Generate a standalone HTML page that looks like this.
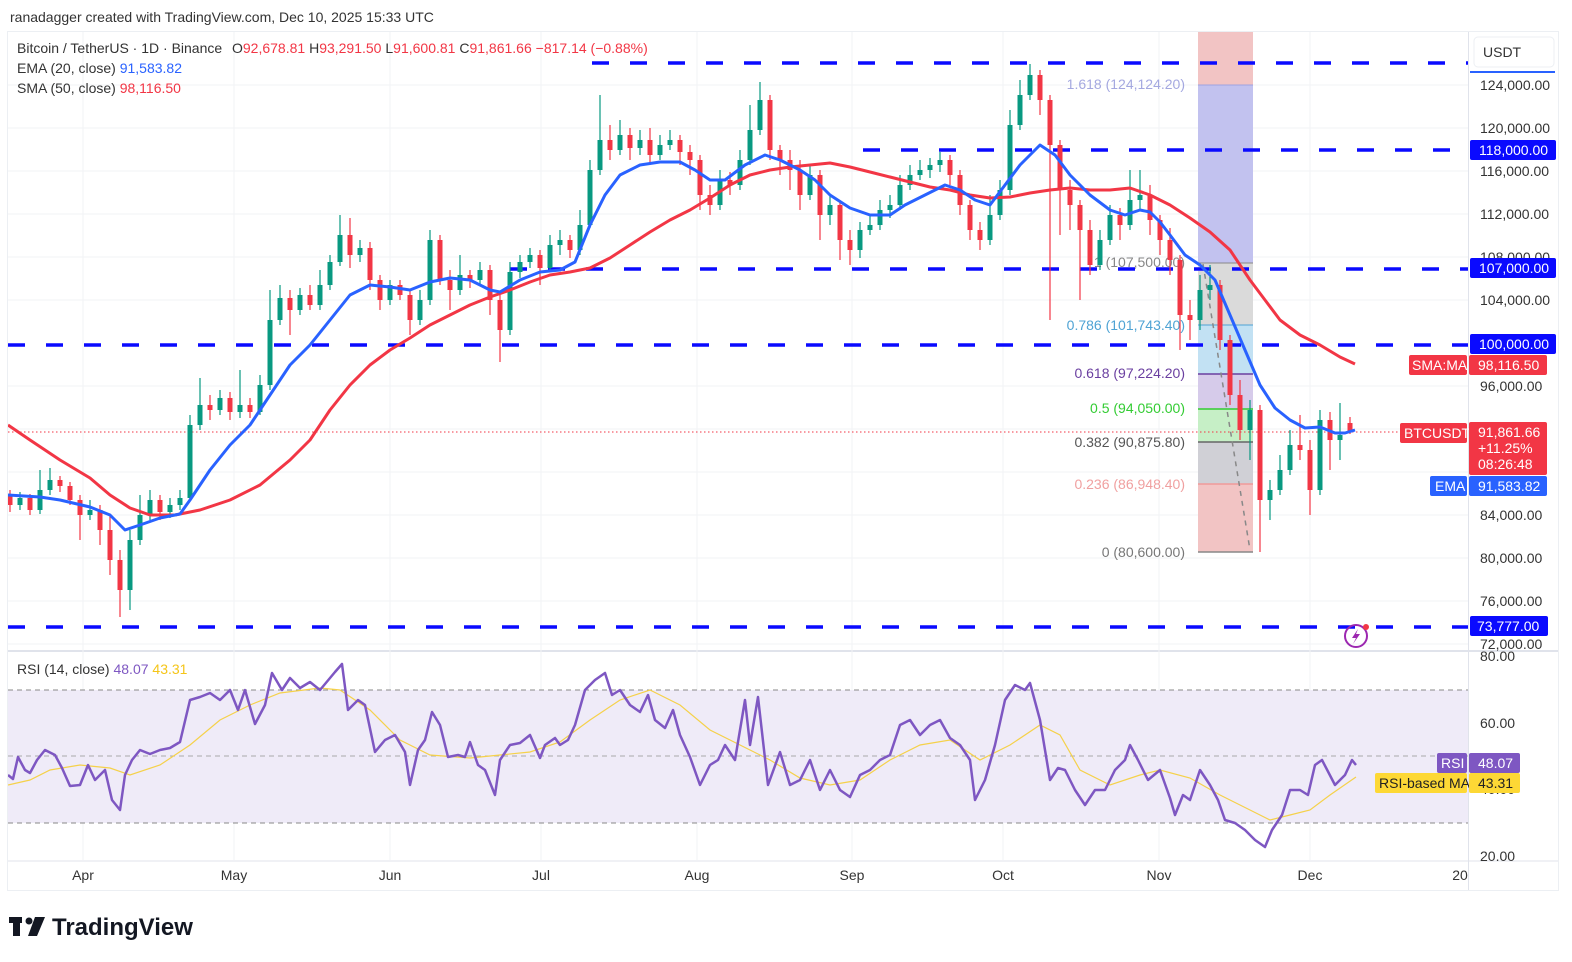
<!DOCTYPE html>
<html><head><meta charset="utf-8">
<style>
html,body{margin:0;padding:0;background:#fff;}
svg{display:block;font-family:"Liberation Sans",sans-serif;}
</style></head>
<body>
<svg width="1572" height="962" viewBox="0 0 1572 962" xmlns="http://www.w3.org/2000/svg">
<defs>
<clipPath id="mc"><rect x="8" y="32" width="1460" height="618"/></clipPath>
<clipPath id="rc"><rect x="8" y="652" width="1460" height="208"/></clipPath>
</defs>
<rect width="1572" height="962" fill="#fff"/>
<text x="10" y="22" font-size="14" fill="#333">ranadagger created with TradingView.com, Dec 10, 2025 15:33 UTC</text>
<rect x="7.5" y="31.5" width="1551" height="859" fill="none" stroke="#eceff3"/>
<line x1="1468.5" y1="32" x2="1468.5" y2="890" stroke="#e0e3eb"/>
<line x1="8" y1="651" x2="1558" y2="651" stroke="#e0e3eb" stroke-width="2"/>
<line x1="8" y1="861" x2="1558" y2="861" stroke="#e0e3eb"/>
<g stroke="#f2f3f6">
<path d="M83 32V860M234 32V860M390 32V860M541 32V860M697 32V860M852 32V860M1003 32V860M1159 32V860M1310 32V860"/>
<path d="M8 85H1468M8 128H1468M8 171H1468M8 214H1468M8 257H1468M8 300H1468M8 386H1468M8 429H1468M8 472H1468M8 515H1468M8 558H1468M8 601H1468M8 644H1468M8 723H1468M8 789H1468"/>
</g>
<rect x="8" y="690" width="1460" height="133" fill="#efebf8"/>
<line x1="8" y1="690" x2="1468" y2="690" stroke="#888" stroke-dasharray="5,4"/>
<line x1="8" y1="756" x2="1468" y2="756" stroke="#aaa" stroke-dasharray="5,4"/>
<line x1="8" y1="823" x2="1468" y2="823" stroke="#888" stroke-dasharray="5,4"/>
<g>
<rect x="1198" y="32" width="55" height="53" fill="#f2c4c4"/>
<rect x="1198" y="85" width="55" height="178" fill="#c2c2ef"/>
<rect x="1198" y="263" width="55" height="62" fill="#dadada"/>
<rect x="1198" y="325" width="55" height="49" fill="#c2e1f3"/>
<rect x="1198" y="374" width="55" height="35" fill="#d6cbea"/>
<rect x="1198" y="409" width="55" height="33" fill="#c6efc6"/>
<rect x="1198" y="442" width="55" height="42" fill="#d0d0d6"/>
<rect x="1198" y="484" width="55" height="68" fill="#f2c4c4"/>
<line x1="1198" y1="85" x2="1253" y2="85" stroke="#9fa3e0"/>
<line x1="1198" y1="263" x2="1253" y2="263" stroke="#888"/>
<line x1="1198" y1="325" x2="1253" y2="325" stroke="#4fa3d4"/>
<line x1="1198" y1="374" x2="1253" y2="374" stroke="#6a3fa0" stroke-width="1.5"/>
<line x1="1198" y1="409" x2="1253" y2="409" stroke="#33cc33" stroke-width="1.5"/>
<line x1="1198" y1="442" x2="1253" y2="442" stroke="#666" stroke-width="1.5"/>
<line x1="1198" y1="484" x2="1253" y2="484" stroke="#f09a9a" stroke-width="1.5"/>
<line x1="1198" y1="552" x2="1253" y2="552" stroke="#888" stroke-width="1.5"/>
<line x1="1203" y1="264" x2="1250" y2="550" stroke="#888" stroke-width="1.5" stroke-dasharray="5,5"/>
</g>
<g font-size="14" text-anchor="end">
<text x="1185" y="89" fill="#a4a8e0">1.618 (124,124.20)</text>
<text x="1185" y="267" fill="#888">1 (107,500.00)</text>
<text x="1185" y="330" fill="#4fa3d4">0.786 (101,743.40)</text>
<text x="1185" y="378" fill="#6a3fa0">0.618 (97,224.20)</text>
<text x="1185" y="413" fill="#33cc33">0.5 (94,050.00)</text>
<text x="1185" y="447" fill="#555">0.382 (90,875.80)</text>
<text x="1185" y="489" fill="#f0a0a0">0.236 (86,948.40)</text>
<text x="1185" y="557" fill="#777">0 (80,600.00)</text>
</g>
<g stroke="#0a0aff" stroke-width="3.5" stroke-dasharray="17,21">
<line x1="592" y1="63" x2="1468" y2="63"/>
<line x1="863" y1="150" x2="1468" y2="150"/>
<line x1="510" y1="269" x2="1468" y2="269"/>
<line x1="8" y1="345" x2="1468" y2="345"/>
<line x1="8" y1="627" x2="1468" y2="627"/>
</g>
<line x1="8" y1="432" x2="1400" y2="432" stroke="#f23645" stroke-width="1" stroke-dasharray="1.5,2.5"/>
<g clip-path="url(#mc)" fill="none">
<path stroke="#089981" stroke-width="1.2" d="M20 492V510M40 470V514M50 468V495M90 500V520M130 530V610M140 495V545M150 490V520M170 498V518M180 490V510M190 415V500M200 378V430M220 390V415M240 370V418M260 375V415M270 290V390M280 285V325M300 288V315M320 270V310M330 255V290M340 215V266M360 240V262M390 280V305M420 290V325M430 230V305M460 255V295M480 262V285M510 262V335M520 255V278M530 248V268M550 235V272M560 230V255M580 210V255M590 160V228M600 95V175M620 120V155M640 130V155M660 135V160M670 130V150M720 170V210M740 150V190M750 105V165M760 82V135M810 165V200M830 195V225M860 222V258M870 215V235M880 200V230M890 195V218M900 175V210M910 165V190M920 160V180M930 158V178M940 152V172M990 195V245M1000 180V220M1010 110V195M1020 80V130M1030 64V100M1100 230V270M1110 205V245M1130 170V230M1140 170V210M1200 275V330M1210 265V300M1250 400V460M1270 480V520M1280 455V495M1290 430V475M1320 410V495M1340 403V460"/>
<path stroke="#089981" stroke-width="5" d="M20 498V505M40 490V510M50 480V490M90 510V515M130 540V590M140 515V540M150 500V515M170 505V512M180 498V505M190 425V498M200 405V425M220 398V410M240 405V412M260 385V412M270 320V385M280 298V320M300 295V310M320 285V305M330 262V285M340 235V262M360 248V255M390 285V300M420 300V320M430 240V300M460 275V290M480 270V280M510 272V330M520 262V272M530 255V262M550 245V268M560 240V245M580 225V250M590 170V225M600 140V170M620 135V150M640 140V148M660 145V155M670 140V145M720 180V205M740 160V185M750 130V160M760 100V130M810 175V195M830 205V215M860 230V250M870 225V230M880 210V225M890 205V210M900 185V205M910 175V185M920 170V175M930 165V170M940 160V165M990 215V240M1000 190V215M1010 125V190M1020 95V125M1030 75V95M1100 240V265M1110 215V240M1130 200V225M1140 195V200M1200 290V320M1210 285V290M1250 410V430M1270 490V500M1280 470V490M1290 445V470M1320 420V490M1340 435V440"/>
<path stroke="#f23645" stroke-width="1.2" d="M10 490V512M30 494V515M60 476V492M70 482V505M80 495V540M100 505V545M110 515V575M120 550V617M160 495V520M210 395V420M230 392V420M250 398V418M290 290V335M310 285V310M350 218V268M370 242V290M380 275V310M400 280V300M410 290V335M440 235V285M450 270V310M470 270V288M490 265V315M500 295V362M540 250V285M570 235V258M610 125V160M630 128V160M650 128V165M680 135V165M690 145V175M700 155V210M710 185V215M730 172V195M770 95V160M780 145V175M790 150V190M800 160V210M820 170V240M840 200V260M850 230V265M950 155V185M960 170V215M970 200V240M980 222V250M1040 70V115M1050 95V320M1060 140V235M1070 180V230M1080 200V300M1090 220V275M1120 208V240M1150 185V235M1160 215V255M1170 228V275M1180 255V350M1190 300V340M1220 280V350M1230 335V405M1240 380V440M1260 405V552M1300 415V460M1310 440V515M1330 412V470M1350 417V434"/>
<path stroke="#f23645" stroke-width="5" d="M10 495V505M30 498V510M60 480V486M70 486V500M80 500V515M100 510V530M110 530V560M120 560V590M160 500V512M210 405V410M230 398V412M250 405V412M290 298V310M310 295V305M350 235V255M370 248V280M380 280V300M400 285V295M410 295V320M440 240V280M450 280V290M470 275V280M490 270V300M500 300V330M540 255V268M570 240V250M610 140V150M630 135V148M650 140V155M680 140V152M690 152V160M700 160V195M710 195V205M730 180V185M770 100V150M780 150V160M790 160V170M800 170V195M820 175V215M840 205V240M850 240V250M950 160V175M960 175V205M970 205V230M980 230V240M1040 75V100M1050 100V145M1060 145V190M1070 190V205M1080 205V230M1090 230V265M1120 215V225M1150 195V220M1160 220V240M1170 240V260M1180 260V315M1190 315V320M1220 285V340M1230 340V395M1240 395V430M1260 410V500M1300 445V450M1310 450V490M1330 420V440M1350 423V432"/>
<polyline stroke="#f23645" stroke-width="3" stroke-linejoin="round" points="8,425 30,440 60,460 90,478 110,495 130,508 150,515 175,515 200,510 230,500 260,485 290,460 310,440 330,410 350,385 370,365 390,350 410,338 430,325 450,315 470,305 490,297 510,290 530,282 550,275 570,272 590,268 610,258 630,245 650,232 670,220 690,210 710,198 730,185 750,175 770,170 790,167 810,165 830,163 850,167 870,172 890,177 910,182 930,187 950,190 970,195 990,198 1010,197 1030,193 1050,190 1070,188 1090,190 1110,190 1130,188 1150,195 1170,205 1190,218 1210,232 1230,250 1250,280 1265,300 1280,320 1300,335 1320,345 1340,357 1355,364"/>
<polyline stroke="#2962ff" stroke-width="3" stroke-linejoin="round" points="8,495 40,497 60,500 90,507 110,515 125,530 140,525 160,518 180,514 190,500 210,470 230,445 250,425 270,395 290,365 310,345 330,320 350,295 370,285 390,287 410,290 430,282 450,278 470,280 490,290 500,292 520,280 540,272 560,270 575,262 590,225 605,195 620,175 640,165 660,162 680,162 695,170 710,180 725,180 745,165 765,155 780,160 800,170 815,180 830,195 850,208 870,215 890,215 905,205 925,195 945,185 960,190 975,200 990,205 1005,185 1020,165 1040,145 1055,155 1070,175 1090,195 1110,210 1125,215 1140,210 1150,212 1160,222 1170,235 1185,255 1200,265 1215,280 1230,315 1245,350 1260,385 1275,408 1290,420 1305,428 1320,427 1335,433 1345,433 1355,430"/>
</g>
<g clip-path="url(#rc)" fill="none">
<polyline stroke="#f5d14a" stroke-width="1.2" points="8,785 30,780 50,770 80,765 110,768 130,775 160,765 190,745 220,720 250,705 280,693 320,688 340,690 370,710 400,740 430,755 470,758 500,755 530,752 560,742 590,720 620,700 650,690 680,705 710,730 740,745 770,760 800,778 830,785 860,780 890,760 920,745 950,740 980,760 1010,745 1040,725 1060,735 1080,770 1110,785 1140,775 1160,770 1190,778 1220,795 1250,810 1270,820 1290,815 1310,810 1330,795 1356,777"/>
<polyline stroke="#7e57c2" stroke-width="2.5" stroke-linejoin="round" points="8,775 13,779 18,757 25,770 30,773 37,760 45,750 55,755 62,768 70,786 80,785 88,765 95,780 105,770 112,800 120,810 125,775 132,760 140,750 150,754 160,750 170,748 180,742 190,700 200,697 210,693 220,700 230,690 238,710 245,690 255,724 265,705 272,673 282,690 290,678 300,688 310,682 320,690 335,672 342,664 348,710 358,700 365,705 375,752 385,740 395,735 405,752 410,785 418,750 425,740 432,712 440,725 448,757 458,755 465,757 470,742 478,765 485,770 495,795 500,760 510,745 520,743 530,735 540,758 545,745 555,738 560,745 568,740 575,725 585,690 595,680 605,673 612,695 620,690 630,705 640,712 648,695 655,720 665,728 673,710 680,735 690,757 700,785 710,765 718,760 725,745 735,760 745,700 750,745 758,697 768,785 780,752 790,785 800,780 810,760 820,790 830,770 840,790 850,797 860,775 870,770 880,760 890,755 900,725 910,720 920,735 930,725 940,720 950,738 960,745 970,760 975,800 985,780 995,745 1005,700 1015,685 1025,690 1030,683 1040,720 1050,780 1058,768 1065,770 1075,790 1085,805 1095,790 1105,790 1115,770 1125,760 1130,745 1138,760 1148,780 1160,770 1170,798 1175,815 1183,795 1190,800 1200,770 1210,785 1218,800 1225,820 1235,823 1245,830 1255,840 1265,847 1272,830 1282,815 1290,790 1300,790 1308,795 1315,765 1322,760 1335,785 1345,775 1352,760 1356,765"/>
</g>
<g font-size="14">
<text x="17" y="53" fill="#333">Bitcoin / TetherUS · 1D · Binance</text>
<text x="232" y="53" fill="#333">O<tspan fill="#f23645">92,678.81</tspan> H<tspan fill="#f23645">93,291.50</tspan> L<tspan fill="#f23645">91,600.81</tspan> C<tspan fill="#f23645">91,861.66</tspan> <tspan fill="#f23645">−817.14 (−0.88%)</tspan></text>
<text x="17" y="73" fill="#333">EMA (20, close) <tspan fill="#2962ff">91,583.82</tspan></text>
<text x="17" y="93" fill="#333">SMA (50, close) <tspan fill="#f23645">98,116.50</tspan></text>
<text x="17" y="674" fill="#333">RSI (14, close) <tspan fill="#7e57c2">48.07</tspan> <tspan fill="#f5c518">43.31</tspan></text>
</g>
<rect x="1474" y="37" width="80" height="30" rx="4" fill="#fff" stroke="#eceff3"/>
<text x="1483" y="57" font-size="14" fill="#333">USDT</text>
<line x1="1470" y1="72" x2="1555" y2="72" stroke="#2962ff" stroke-width="2"/>
<g font-size="14" fill="#333">
<text x="1480" y="90">124,000.00</text>
<text x="1480" y="133">120,000.00</text>
<text x="1480" y="176">116,000.00</text>
<text x="1480" y="219">112,000.00</text>
<text x="1480" y="262">108,000.00</text>
<text x="1480" y="305">104,000.00</text>
<text x="1480" y="391">96,000.00</text>
<text x="1480" y="520">84,000.00</text>
<text x="1480" y="563">80,000.00</text>
<text x="1480" y="606">76,000.00</text>
<text x="1480" y="649">72,000.00</text>
<text x="1480" y="661">80.00</text>
<text x="1480" y="728">60.00</text>
<text x="1480" y="794">40.00</text>
<text x="1480" y="861">20.00</text>
</g>
<g font-size="14" fill="#fff">
<rect x="1470" y="140" width="86" height="20" rx="2" fill="#0a0aff"/><text x="1479" y="155">118,000.00</text>
<rect x="1470" y="258" width="86" height="20" rx="2" fill="#0a0aff"/><text x="1479" y="273">107,000.00</text>
<rect x="1470" y="334" width="86" height="20" rx="2" fill="#0a0aff"/><text x="1479" y="349">100,000.00</text>
<rect x="1470" y="616" width="78" height="20" rx="2" fill="#0a0aff"/><text x="1477" y="631">73,777.00</text>
<rect x="1409" y="355" width="58" height="20" rx="2" fill="#f23645"/><text x="1412" y="370">SMA:MA</text>
<rect x="1469" y="355" width="78" height="20" rx="2" fill="#f23645"/><text x="1478" y="370">98,116.50</text>
<rect x="1400" y="423" width="67" height="20" rx="2" fill="#f23645"/><text x="1404" y="438">BTCUSDT</text>
<rect x="1469" y="422" width="78" height="53" rx="2" fill="#f23645"/><text x="1478" y="437">91,861.66</text><text x="1478" y="453">+11.25%</text><text x="1478" y="469">08:26:48</text>
<rect x="1430" y="476" width="37" height="20" rx="2" fill="#2962ff"/><text x="1435" y="491">EMA</text>
<rect x="1469" y="476" width="78" height="20" rx="2" fill="#2962ff"/><text x="1478" y="491">91,583.82</text>
<rect x="1437" y="753" width="30" height="20" rx="2" fill="#7e57c2"/><text x="1441" y="768">RSI</text>
<rect x="1469" y="753" width="51" height="20" rx="2" fill="#7e57c2"/><text x="1478" y="768">48.07</text>
<rect x="1375" y="773" width="92" height="20" rx="2" fill="#fdd835"/><text x="1379" y="788" fill="#222">RSI-based MA</text>
<rect x="1469" y="773" width="51" height="20" rx="2" fill="#fdd835"/><text x="1478" y="788" fill="#222">43.31</text>
</g>
<circle cx="1356" cy="636" r="11" fill="none" stroke="#9c27b0" stroke-width="2"/>
<path d="M1358 629 L1352 638 L1356 638 L1353 644 L1360 634 L1356 634 Z" fill="#9c27b0"/>
<circle cx="1366" cy="627" r="3" fill="#f23645"/>
<g font-size="14" fill="#333" text-anchor="middle">
<text x="83" y="880">Apr</text><text x="234" y="880">May</text><text x="390" y="880">Jun</text>
<text x="541" y="880">Jul</text><text x="697" y="880">Aug</text><text x="852" y="880">Sep</text>
<text x="1003" y="880">Oct</text><text x="1159" y="880">Nov</text><text x="1310" y="880">Dec</text>
<text x="1460" y="880">20</text>
</g>
<g fill="#131722">
<rect x="9" y="917" width="13" height="6"/><rect x="13" y="917" width="7" height="19"/>
<circle cx="29" cy="921" r="3.5"/>
<path d="M35 917 L45 917 L37 936 L28 936 Z"/>
<text x="52" y="935" font-size="24" font-weight="bold">TradingView</text>
</g>
</svg>
</body></html>
